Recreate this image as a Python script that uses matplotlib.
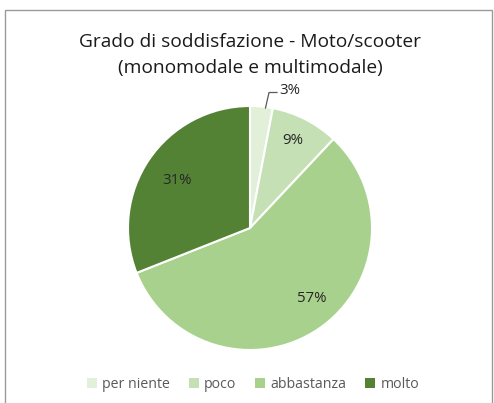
import matplotlib.pyplot as plt
from matplotlib.patches import Rectangle, Patch

plt.rcParams['font.family'] = ['Open Sans', 'DejaVu Sans']

categories = ["per niente", "poco", "abbastanza", "molto"]
values = [3, 9, 57, 31]
colors = ["#E2F0D9", "#C5E0B4", "#A9D18E", "#548235"]

W, H = 494, 403
fig = plt.figure(figsize=(W / 100, H / 100), dpi=100)

# frame of the chart area (bottom edge cut off in the reference)
fig.patches.append(Rectangle((5 / W, -0.05), 487 / W, 1.05 - 10 / H,
                             transform=fig.transFigure, fill=False,
                             edgecolor="#9a9a9a", linewidth=1.0))

fig.text(250 / W, 1 - 42 / H, "Grado di soddisfazione - Moto/scooter",
         ha="center", va="center", fontsize=13.8, color="#1a1a1a")
fig.text(250 / W, 1 - 68 / H, "(monomodale e multimodale)",
         ha="center", va="center", fontsize=13.8, color="#1a1a1a")

# pie: center (250, 228), radius 122 px
r = 122
ax = fig.add_axes([(250 - r) / W, 1 - (228 + r) / H, 2 * r / W, 2 * r / H])
wedges, _ = ax.pie(values, colors=colors, startangle=90, counterclock=False,
                   wedgeprops=dict(edgecolor="white", linewidth=1.5))
ax.set_xlim(-1, 1)
ax.set_ylim(-1, 1)
ax.set_aspect("equal")

def px(x, y):
    return ((x - 250) / r, (228 - y) / r)

lbl = [f"{v}%" for v in values]
ax.text(*px(290, 91), lbl[0], ha="center", va="center", fontsize=10.8, color="#262626")
ax.plot(*zip(px(265.5, 108), px(269, 92.5), px(277, 92.5)), color="#595959",
        lw=0.9, clip_on=False)
ax.text(*px(293, 141), lbl[1], ha="center", va="center", fontsize=10.8, color="#262626")
ax.text(*px(312, 299), lbl[2], ha="center", va="center", fontsize=10.8, color="#262626")
ax.text(*px(177, 181), lbl[3], ha="center", va="center", fontsize=10.8, color="#262626")

handles = [Patch(facecolor=c, edgecolor="none") for c in colors]
fig.legend(handles, categories, loc="center", bbox_to_anchor=(253 / W, 1 - 384 / H),
           ncol=4, frameon=False, fontsize=10.2, handlelength=0.7, handleheight=0.7,
           handletextpad=0.4, columnspacing=1.3, labelcolor="#595959")

fig.savefig("out.png", dpi=100)
